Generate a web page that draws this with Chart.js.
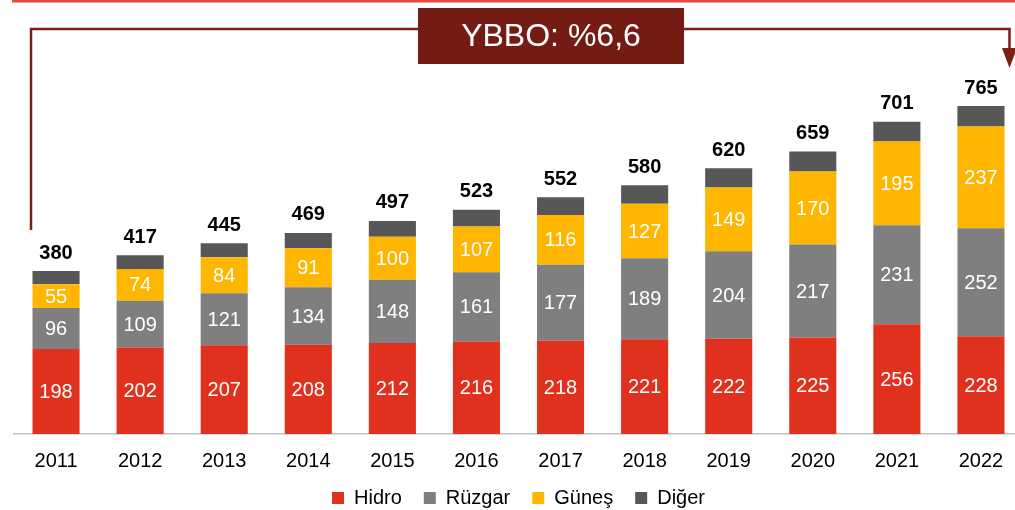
<!DOCTYPE html>
<html>
<head>
<meta charset="utf-8">
<script src="https://cdn.jsdelivr.net/npm/chart.js@4"></script>
<style>
  body { margin: 0; overflow: hidden; background: #fff; }
  #wrap { width: 1030px; height: 510px; }
</style>
</head>
<body>
<div id="wrap"><canvas id="chart"></canvas></div>
<script>
const years = ['2011', '2012', '2013', '2014', '2015', '2016', '2017', '2018', '2019', '2020', '2021', '2022'];
const hidro = [198, 202, 207, 208, 212, 216, 218, 221, 222, 225, 256, 228];
const ruzgar = [96, 109, 121, 134, 148, 161, 177, 189, 204, 217, 231, 252];
const gunes = [55, 74, 84, 91, 100, 107, 116, 127, 149, 170, 195, 237];
const diger = [31, 32, 33, 36, 37, 39, 41, 43, 45, 47, 46, 48];
const totals = [380, 417, 445, 469, 497, 523, 552, 580, 620, 659, 701, 765];
const growthText = 'YBBO: %6,6';

const FONT = "'Liberation Sans', Arial, sans-serif";

// keep the legend short so it sits low under the year labels
const legendHeight = {
  id: 'legendHeight',
  beforeInit(chart) {
    const legend = chart.legend;
    if (!legend) return;
    const fit = legend.fit;
    legend.fit = function () {
      fit.call(this);
      this.height = 38;
    };
    const draw = legend.draw;
    legend.draw = function (area) {
      const bottom = this.bottom;
      this.bottom = bottom + 6;
      this.ctx.save();
      this.ctx.translate(0, -6);
      draw.call(this, area);
      this.ctx.restore();
      this.bottom = bottom;
    };
  }
};

// labels inside the bars, totals on top, the growth bracket
const decorations = {
  id: 'decorations',
  afterDatasetsDraw(chart) {
    const ctx = chart.ctx;
    ctx.save();
    ctx.textAlign = 'center';
    ctx.textBaseline = 'middle';
    ctx.fillStyle = '#ffffff';
    ctx.font = '20px ' + FONT;
    [0, 1, 2].forEach((di) => {
      chart.getDatasetMeta(di).data.forEach((bar, i) => {
        const v = chart.data.datasets[di].data[i];
        ctx.fillText(String(v), bar.x, (bar.y + bar.base) / 2 + 1);
      });
    });

    ctx.fillStyle = '#000000';
    ctx.font = 'bold 20px ' + FONT;
    const top = chart.getDatasetMeta(3).data;
    top.forEach((bar, i) => {
      ctx.fillText(String(totals[i]), bar.x, bar.y - 18);
    });

    // top red rule
    ctx.fillStyle = '#e8493d';
    ctx.fillRect(12, 0, chart.width, 2.5);

    // bracket
    const first = top[0];
    const last = top[top.length - 1];
    const lx = first.x - first.width / 2 - 1.5;
    const rx = last.x + last.width / 2 + 5;
    const ly = 29;
    ctx.strokeStyle = '#7a1e16';
    ctx.lineWidth = 2.5;
    ctx.beginPath();
    ctx.moveTo(lx, first.y - 41);
    ctx.lineTo(lx, ly);
    ctx.lineTo(rx, ly);
    ctx.lineTo(rx, 50);
    ctx.stroke();
    ctx.fillStyle = '#7a1e16';
    ctx.beginPath();
    ctx.moveTo(rx - 7.5, 48);
    ctx.lineTo(rx + 7.5, 48);
    ctx.lineTo(rx, 68);
    ctx.closePath();
    ctx.fill();

    // growth box
    const bx = 418, bw = 266, by = 8, bh = 56;
    ctx.fillStyle = '#741b13';
    ctx.fillRect(bx, by, bw, bh);
    ctx.fillStyle = '#ffffff';
    ctx.font = '32px ' + FONT;
    ctx.fillText(growthText, bx + bw / 2, by + bh / 2 + 1);
    ctx.restore();
  }
};

new Chart(document.getElementById('chart'), {
  type: 'bar',
  data: {
    labels: years,
    datasets: [
      { label: 'Hidro', data: hidro, backgroundColor: '#e0301e' },
      { label: 'Rüzgar', data: ruzgar, backgroundColor: '#7f7f7f' },
      { label: 'Güneş', data: gunes, backgroundColor: '#ffb600' },
      { label: 'Diğer', data: diger, backgroundColor: '#575757' },
    ],
  },
  options: {
    responsive: true,
    maintainAspectRatio: false,
    animation: false,
    layout: { padding: { top: 91, left: 14, right: 7, bottom: 0 } },
    datasets: { bar: { barPercentage: 0.56, categoryPercentage: 1 } },
    scales: {
      x: {
        stacked: true,
        grid: { display: false, drawTicks: false },
        border: { display: true, color: '#bfbfbf', width: 1.5 },
        ticks: { color: '#000', padding: 15, font: { family: FONT, size: 20 } },
        afterFit: (scale) => { scale.height -= 16; },
      },
      y: { stacked: true, display: false, min: 0, max: 800 },
    },
    plugins: {
      tooltip: { enabled: false },
      legend: {
        position: 'bottom',
        labels: {
          color: '#000',
          boxWidth: 12,
          boxHeight: 12,
          padding: 22,
          font: { family: FONT, size: 20 },
        },
      },
    },
  },
  plugins: [legendHeight, decorations],
});
</script>
</body>
</html>
